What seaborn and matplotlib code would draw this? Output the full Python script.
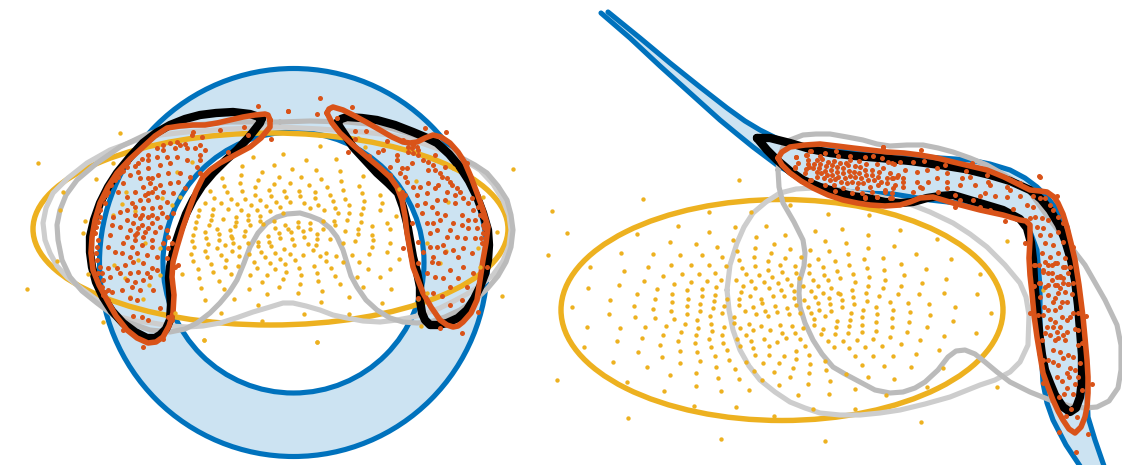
import numpy as np
import pandas as pd
import matplotlib
matplotlib.use('Agg')
import matplotlib.pyplot as plt
from matplotlib.patches import Circle, Ellipse, Wedge
import seaborn as sns

BLUE = '#0072BD'
PALE = '#CCE3F2'
YELLOW = '#EDB120'
ORANGE = '#D95319'
GRAY_D = '#BBBBBB'
GRAY_L = '#CDCDCD'

# left panel, ring and ellipse (centre x, centre y, radius / widths) in image pixels
ring = (293.5, 262.5, 194, 130.5)
ellipse_left = (270.5, 229, 475, 192)
ellipse_right = (782, 310, 442, 221)

# outlines, image pixels
gray_d_left = [(280,122),(230,122),(170,127),(145,135),(120,147),(97,163),(77,180),(66,195),(60,210),(57,225),(58,240),(62,260),(70,277),(82,291),(97,303),(113,315),(130,323),(150,330),(170,332),(185,329),(197,323),(210,313),(220,303),(230,291),(237,280),(244,263),(250,247),(258,233),(267,223),(277,217),(287,214),(300,213),(310,216),(320,220),(330,228),(337,237),(343,250),(347,263),(351,276),(357,287),(366,300),(377,310),(390,318),(403,322),(417,323),(430,322),(445,317),(460,310),(475,300),(487,289),(498,276),(506,262),(511,247),(513,230),(511,215),(507,200),(498,186),(487,173),(475,165),(460,157),(445,148),(430,140),(410,134),(390,128),(368,124),(347,122),(310,121),(280,122)]
gray_l_left = [(273,127),(230,129),(187,132),(160,135),(137,140),(110,150),(87,163),(68,178),(53,193),(46,208),(43,223),(45,240),(50,253),(57,266),(67,277),(82,289),(97,300),(108,309),(120,317),(136,321),(153,323),(170,326),(187,327),(203,326),(220,323),(236,318),(253,312),(270,307),(283,303),(293,303),(306,306),(320,310),(333,315),(347,318),(363,321),(380,322),(397,320),(413,317),(427,313),(440,308),(454,301),(467,294),(481,285),(493,275),(503,261),(509,246),(511,230),(509,215),(503,200),(493,184),(480,170),(464,160),(447,152),(430,146),(413,140),(390,135),(363,132),(320,129),(280,127),(273,127)]
black_a = [(262,118),(250,114),(233,112),(216,113),(200,115),(185,119),(170,125),(156,133),(143,143),(130,157),(117,173),(108,187),(100,203),(94,220),(90,237),(90,252),(92,267),(96,282),(103,297),(112,311),(123,323),(135,332),(147,338),(155,338),(160,335),(166,329),(170,320),(171,305),(170,290),(169,278),(170,267),(174,248),(180,230),(186,214),(193,200),(202,186),(213,173),(225,161),(237,150),(249,137),(260,123),(262,118)]
orange_a = [(270,120),(268,115),(265,114),(255,115),(243,117),(230,120),(217,123),(205,125),(193,125),(180,126),(167,128),(155,136),(143,147),(130,159),(117,173),(108,187),(100,203),(95,220),(92,237),(91,253),(93,270),(99,285),(107,300),(116,316),(127,330),(137,338),(148,343),(156,342),(163,337),(169,326),(173,313),(174,295),(172,277),(173,262),(177,247),(183,227),(190,207),(196,191),(203,177),(210,170),(220,163),(235,155),(250,147),(261,138),(270,127),(270,120)]
black_b = [(337,123),(341,119),(347,117),(362,118),(377,120),(395,125),(413,132),(425,137),(437,143),(449,154),(460,167),(469,181),(477,197),(483,213),(488,230),(489,245),(488,260),(485,274),(480,287),(474,299),(467,310),(458,318),(447,323),(438,325),(430,325),(425,320),(422,313),(420,300),(420,287),(417,272),(413,257),(410,240),(407,223),(403,207),(398,193),(388,183),(377,173),(365,160),(353,147),(345,135),(337,123)]
orange_b = [(327,113),(329,109),(333,107),(343,110),(353,115),(366,122),(380,130),(392,137),(403,142),(410,143),(417,142),(425,138),(433,135),(441,137),(450,143),(458,152),(465,163),(471,177),(477,193),(483,210),(488,227),(486,243),(483,260),(480,280),(477,300),(471,313),(463,322),(458,326),(453,327),(447,325),(440,320),(431,307),(423,293),(418,280),(413,267),(410,250),(407,233),(405,216),(402,200),(397,187),(390,177),(379,167),(367,157),(353,145),(340,133),(332,123),(327,113)]

band_upper = [(608,12),(640,38),(670,63),(700,87),(727,108),(745,121),(760,130),(778,139),(797,145),(815,149),(850,152),(900,155),(940,158),(970,160),(990,164),(1010,170),(1025,178),(1037,187),(1047,197),(1055,207),(1062,217),(1067,227),(1073,260),(1080,310),(1084,350),(1087,390),(1088,417),(1095,440),(1104,466)]
band_lower = [(601,13),(630,38),(660,66),(690,93),(720,120),(737,134),(753,147),(777,165),(800,178),(825,188),(860,193),(893,194),(930,200),(975,205),(1000,210),(1017,217),(1025,224),(1031,234),(1037,250),(1040,287),(1040,330),(1043,383),(1047,403),(1053,420),(1066,445),(1080,466)]
gray_d_right = [(778,170),(779,158),(783,147),(790,140),(803,135),(816,134),(830,134),(847,137),(863,140),(877,144),(890,146),(907,145),(923,145),(938,148),(953,152),(970,158),(987,165),(1010,178),(1030,192),(1050,220),(1068,243),(1085,265),(1105,300),(1117,325),(1121,345),(1121,370),(1118,388),(1109,401),(1097,407),(1085,408),(1070,406),(1050,400),(1030,392),(1010,382),(997,372),(985,362),(975,354),(965,350),(956,351),(948,357),(938,370),(925,382),(915,388),(903,392),(890,393),(875,390),(860,382),(845,374),(833,367),(822,354),(813,340),(805,323),(800,307),(799,293),(800,280),(804,266),(805,253),(803,240),(794,222),(783,203),(779,187),(778,170)]
gray_l_right = [(727,290),(730,265),(737,243),(744,227),(753,213),(766,202),(780,193),(796,189),(813,188),(833,189),(853,192),(880,197),(907,203),(930,212),(953,223),(970,234),(987,247),(1005,265),(1020,283),(1026,297),(1029,315),(1028,345),(1020,362),(1010,372),(995,380),(980,385),(965,391),(950,397),(925,404),(900,410),(880,413),(860,415),(840,415),(820,413),(805,408),(790,402),(775,392),(760,380),(749,366),(740,350),(733,330),(729,310),(727,290)]
black_c = [(757,138),(770,138),(790,143),(810,149),(830,153),(855,156),(880,158),(910,161),(940,165),(965,169),(990,175),(1010,181),(1030,190),(1041,199),(1050,210),(1059,225),(1065,240),(1071,260),(1075,280),(1078,305),(1080,330),(1082,355),(1082,380),(1080,397),(1076,408),(1070,412),(1063,407),(1055,395),(1050,383),(1045,370),(1042,355),(1040,340),(1038,320),(1036,300),(1034,280),(1033,260),(1031,243),(1027,228),(1020,219),(1003,210),(973,201),(953,195),(940,196),(927,198),(913,202),(900,203),(885,202),(867,198),(852,196),(837,192),(820,187),(803,180),(790,171),(777,160),(767,150),(757,138)]
orange_c = [(778,158),(782,152),(790,147),(805,145),(820,144),(837,146),(853,148),(870,150),(887,152),(904,153),(920,155),(937,158),(953,162),(970,166),(987,170),(1004,177),(1020,185),(1030,190),(1040,191),(1047,192),(1054,197),(1058,203),(1063,214),(1067,227),(1071,243),(1075,260),(1079,285),(1083,317),(1085,338),(1087,360),(1088,377),(1088,393),(1087,407),(1085,417),(1081,427),(1075,433),(1069,429),(1063,420),(1058,411),(1053,400),(1048,387),(1043,373),(1040,355),(1037,337),(1034,315),(1032,293),(1030,275),(1029,258),(1030,240),(1030,225),(1026,221),(1020,220),(1003,215),(980,210),(953,203),(943,200),(933,197),(920,198),(910,202),(900,205),(885,206),(870,205),(857,203),(843,200),(828,195),(813,188),(801,181),(790,173),(782,165),(778,158)]

yellow_a = (170, 130, [(450,48),(339,71),(249,80),(408,91),(497,88),(311,104),(216,108),(366,118),(439,119),(275,126),(509,124),(212,135),(327,140),(392,142),(580,137),(156,144),(264,150),(454,146),(514,152),(210,160),(311,161),(361,160),(417,164),(162,167),(254,171),(471,170),(566,167),(119,183),(216,183),(296,181),(342,183),(387,182),(436,186),(518,181),(171,187),(254,194),(302,199),(348,200),(480,196),(575,188),(133,203),(183,206),(226,206),(391,198),(436,204),(631,194),(269,211),(317,215),(361,217),(401,218),(490,214),(526,206),(104,220),(152,220),(201,222),(242,225),(287,228),(331,232),(445,225),(538,225),(583,212),(636,219),(87,239),(130,237),(174,236),(213,239),(260,240),(300,244),(419,235),(461,241),(494,234),(578,233),(629,241),(83,258),(125,255),(159,268),(198,261),(233,254),(271,258),(340,248),(505,250),(537,250),(573,253),(678,257),(79,275),(122,270),(198,277),(235,269),(270,272),(493,273),(530,270),(574,277),(650,278),(76,293),(116,286),(142,298),(180,300),(196,289),(240,285),(311,274),(278,282),(346,284),(383,275),(420,280),(459,274),(494,286),(565,296),(607,288),(105,307),(146,312),(182,318),(225,302),(316,294),(354,297),(385,290),(420,296),(458,298),(525,304),(660,297),(68,314),(107,324),(147,330),(187,325),(221,318),(293,318),(326,310),(362,305),(400,304),(440,312),(565,313),(607,316),(66,333),(113,341),(165,344),(188,338),(234,340),(265,335),(296,337),(330,325),(366,326),(403,321),(440,328),(480,326),(555,332),(610,330),(660,340),(73,351),(105,363),(142,355),(207,350),(263,349),(302,348),(341,356),(371,345),(414,343),(437,345),(520,340),(606,350),(63,372),(112,382),(153,374),(186,363),(272,365),(315,369),(359,371),(400,375),(428,361),(469,368),(450,377),(497,377),(546,375),(596,372),(652,366),(70,393),(122,401),(167,391),(208,378),(236,373),(285,381),(329,386),(375,391),(468,394),(518,396),(568,395),(687,386),(84,416),(130,427),(166,411),(205,407),(251,395),(300,398),(346,403),(431,409),(483,413),(595,417),(660,416),(36,431),(184,432),(260,414),(316,416),(387,413),(348,425),(440,430),(88,445),(147,452),(240,435),(291,436),(392,436),(338,447),(496,437),(560,441),(630,442),(275,456),(390,461),(445,453),(510,463),(93,473),(162,478),(236,478),(327,471),(579,471),(664,476),(291,493),(385,489),(457,482),(538,501),(104,509),(193,506),(454,515),(637,518),(263,526),(152,548),(402,553),(538,552),(275,572),(103,631),(440,637)])
yellow_b = (20, 60, [(55,308),(22,688),(300,218),(228,358),(195,482),(190,518),(120,450),(128,397),(110,603),(203,642),(250,785),(553,840),(280,310),(318,395),(345,452),(305,432),(280,465),(375,548),(355,600),(282,614),(315,655),(388,675),(370,716),(330,712),(425,415),(455,435),(480,410),(515,305),(472,335),(420,565),(420,645),(465,760)])
yellow_c = (280, 60, [(699,327),(666,708),(650,516),(610,412),(520,323),(110,847),(422,797),(415,716),(440,700),(600,620),(595,565),(352,300),(408,362),(358,388),(503,427),(480,610),(497,573),(440,550),(170,175),(235,235),(255,260)])
yellow_d = (540, 180, [(35,94),(82,160),(25,226),(52,600),(263,713),(542,776),(855,783),(308,56),(596,0),(506,96),(632,96),(750,75),(864,102),(414,137),(292,161),(507,157),(584,141),(678,139),(735,166),(825,152),(390,187),(468,191),(580,180),(648,171),(702,191),(854,184),(242,218),(338,222),(421,225),(486,226),(532,201),(592,212),(644,203),(692,218),(750,208),(810,210),(868,214),(149,261),(325,261),(393,256),(454,255),(507,254),(545,231),(597,240),(642,231),(683,244),(735,233),(782,232),(833,237),(884,243),(253,273),(369,289),(425,283),(477,281),(524,279),(557,258),(606,263),(646,259),(684,269),(720,255),(764,257),(808,255),(850,262),(891,272),(312,303),(453,306),(500,302),(544,300),(588,300),(617,283),(657,285),(697,292),(727,277),(769,278),(807,280),(852,284),(143,324),(238,316),(401,313),(350,327),(442,331),(486,326),(528,322),(608,319),(633,302),(671,306),(713,310),(741,296),(778,295),(818,299),(864,299),(291,343),(397,341),(443,356),(485,348),(526,344),(603,336),(644,323),(687,324),(723,329),(752,316),(790,318),(833,317),(873,325),(345,358),(396,367),(441,379),(481,371),(521,364),(560,358),(596,356),(630,347),(664,357),(698,347),(731,347),(761,333),(812,333),(850,339),(895,340),(211,361),(281,378),(340,386),(393,392),(440,403),(481,393),(518,385),(553,377),(598,375),(638,382),(667,370),(706,379),(740,384),(761,355),(792,360),(826,352),(868,354),(97,382),(206,403),(284,411),(346,415),(402,416),(471,419),(509,409),(545,400),(581,410),(614,394),(648,402),(676,392),(712,397),(746,403),(768,374),(804,380),(835,369),(870,373),(141,440),(240,443),(314,441),(377,439),(434,433),(475,443),(513,431),(551,442),(583,430),(601,444),(626,431),(663,438),(685,408),(719,436),(755,438),(780,400),(812,399),(837,390),(873,392),(423,457),(369,465),(306,474),(515,452),(467,465),(545,466),(618,465),(639,451),(690,450),(725,460),(764,459),(790,444),(821,417),(855,408),(892,424),(415,483),(232,484),(506,477),(464,490),(550,488),(590,478),(633,483),(671,477),(710,487),(738,473),(780,476),(821,435),(849,446),(887,442),(133,502),(359,496),(512,501),(420,513),(600,498),(561,509),(640,505),(688,497),(768,513),(795,498),(843,463),(884,462),(293,515),(367,530),(470,517),(525,527),(567,539),(646,526),(688,525),(731,527),(806,524),(863,482),(881,502),(219,545),(421,548),(481,544),(618,546),(670,550),(717,549),(769,538),(810,551),(855,543),(322,561),(528,560),(584,568),(702,575),(760,563),(859,571),(390,584),(467,578),(642,572),(808,580),(533,593),(598,598),(665,599),(750,591),(871,603),(262,605),(467,617),(717,616),(804,611),(373,632),(544,634),(626,631),(774,644),(867,641),(463,677),(588,680),(819,686),(702,707)])
yellow_e = (800, 200, [(127,88),(205,105),(299,90),(208,45),(139,129),(410,117),(620,123),(204,145),(281,138),(143,162),(191,178),(250,173),(349,162),(453,177),(146,195),(200,205),(251,210),(304,192),(378,208),(539,221),(160,221),(121,234),(207,232),(256,239),(312,226),(439,238),(165,246),(205,257),(249,265),(303,257),(365,248),(157,270),(120,281),(197,280),(237,289),(294,283),(357,281),(431,279),(531,282),(159,292),(125,301),(200,303),(269,307),(325,308),(388,312),(465,320),(162,313),(127,322),(190,329),(229,320),(279,331),(331,336),(391,345),(574,340),(153,338),(232,343),(276,355),(460,362),(151,359),(187,351),(229,367),(327,365),(381,380),(146,379),(187,375),(275,380),(321,396),(433,407),(528,399),(144,400),(185,397),(229,392),(270,410),(360,420),(128,422),(172,420),(219,417),(303,433),(147,444),(195,442),(247,439),(418,450),(347,462),(164,469),(218,467),(279,467),(186,496),(251,498),(333,500),(430,505),(139,521),(203,532),(282,536),(165,566),(380,561),(590,562),(257,586),(166,627),(362,667)])
yellow_f = (960, 260, [(248,90)])

orange_p = (20, 60, [(715,137),(803,153),(672,200),(685,225),(623,277),(752,236),(600,210),(520,215),(515,225),(545,230),(540,255),(495,252),(470,245),(450,250),(540,285),(540,300),(500,265),(465,265),(430,270),(410,290),(440,290),(470,290),(500,300),(385,300),(355,310),(320,320),(295,350),(265,395),(255,430),(240,470),(235,540),(230,560),(240,620),(250,660),(265,690),(530,320),(540,340),(510,350),(480,340),(450,310),(420,315),(385,325),(355,335),(330,345),(310,370),(295,395),(360,355),(385,355),(415,345),(445,340),(475,365),(495,385),(450,370),(420,375),(390,370),(370,380),(345,395),(320,410),(405,385),(430,395),(460,400),(385,400),(360,420),(335,430),(410,410),(385,420),(440,425),(420,440),(395,445),(370,445),(345,465),(320,450),(300,455),(280,470),(360,475),(385,470),(410,475),(440,470),(460,460),(425,460),(340,490),(365,495),(395,490),(420,500),(320,480),(300,500),(275,495),(330,510),(350,520),(375,515),(405,515),(440,510),(445,530),(455,550),(430,550),(320,530),(345,540),(370,530),(395,540),(310,550),(335,560),(365,555),(395,560),(285,575),(305,580),(330,590),(350,580),(380,585),(410,590),(445,565),(440,595),(270,525),(265,560),(290,625),(315,615),(340,605),(370,610),(395,625),(300,640),(330,640),(355,635),(380,640),(410,630),(265,625),(245,640),(270,650),(320,660),(345,665),(370,660),(390,650),(275,695),(305,690),(335,680),(360,690),(350,720),(330,715),(400,690),(420,745),(385,780),(340,767),(365,770),(250,705),(265,720),(310,810),(370,860),(430,838),(465,620),(475,615),(455,780),(445,770),(225,520),(228,500),(235,485),(240,450),(248,415),(258,405),(272,375),(285,360),(300,340),(310,332),(325,305),(228,580),(232,600),(235,640),(245,680),(255,695),(555,270),(525,265),(480,255),(430,255),(410,265),(385,285),(365,298),(345,318),(395,355),(375,405),(395,395),(345,440),(365,465),(395,465),(355,505),(385,505),(345,525)])
orange_q = (280, 60, [(120,115),(23,153),(110,162),(215,141),(170,175),(225,212),(258,212),(225,237),(205,275),(268,288),(295,277),(308,270),(322,242),(350,285),(350,300),(370,240),(385,260),(400,255),(410,260),(385,275),(400,280),(435,205),(498,216),(560,308),(465,285),(430,300),(445,305),(460,315),(480,340),(500,355),(415,285),(395,310),(380,325),(365,325),(375,350),(380,365),(330,320),(330,345),(360,340),(445,330),(465,330),(495,320),(475,375),(445,370),(420,380),(400,380),(375,405),(365,395),(370,415),(410,405),(440,400),(465,385),(515,375),(530,385),(500,395),(525,405),(550,415),(565,430),(580,450),(600,465),(615,490),(610,520),(605,550),(585,480),(470,420),(495,420),(525,430),(545,465),(565,480),(435,430),(410,435),(425,460),(455,440),(470,460),(495,465),(520,490),(545,495),(565,505),(590,505),(440,490),(460,490),(480,480),(510,510),(530,530),(555,535),(585,535),(395,490),(415,545),(450,520),(470,510),(500,530),(450,560),(470,560),(490,555),(520,570),(550,565),(575,580),(460,590),(495,575),(535,590),(430,575),(415,610),(455,605),(475,610),(510,630),(550,620),(580,640),(440,640),(465,650),(490,655),(535,655),(620,622),(510,680),(560,680),(415,715),(458,700),(485,708),(545,720),(510,735),(595,755),(545,818),(480,805),(370,565),(605,450),(610,470),(608,495),(612,505),(604,535),(595,440),(575,415),(540,395),(485,350),(510,365),(415,270),(395,265)])
orange_r = (775, 140, [(63,50),(68,68),(60,85),(90,100),(107,120),(95,45),(107,32),(135,47),(150,38),(183,33),(188,48),(225,47),(270,52),(293,48),(320,55),(325,20),(100,60),(98,72),(103,82),(125,60),(118,72),(115,85),(125,95),(125,110),(142,58),(135,72),(132,85),(138,100),(148,115),(150,135),(160,65),(152,78),(150,92),(155,105),(165,120),(177,135),(178,62),(170,75),(168,90),(172,105),(180,118),(203,145),(195,68),(187,80),(185,95),(190,110),(198,125),(230,158),(213,70),(205,85),(205,100),(210,115),(215,130),(245,145),(225,60),(220,75),(222,92),(225,108),(232,125),(262,158),(240,78),(238,95),(240,110),(248,128),(270,172),(252,62),(255,82),(253,100),(258,115),(265,130),(305,170),(272,72),(270,90),(272,105),(280,120),(285,140),(290,155),(305,72),(292,90),(290,105),(298,120),(310,135),(330,155),(325,85),(312,95),(310,110),(318,125),(350,175),(340,65),(358,72),(345,100),(350,115),(370,105),(335,115),(335,130),(360,135),(383,115)])
orange_s = (720, 110, [(490,110),(603,120),(228,140),(270,122),(258,135),(515,160),(540,155),(578,155),(613,152),(675,165),(738,183),(755,160),(800,195),(900,218),(958,198),(530,200),(555,180),(590,185),(620,180),(650,175),(680,190),(725,205),(750,200),(805,215),(520,205),(550,215),(590,215),(625,215),(650,205),(680,215),(720,225),(765,225),(810,225),(550,230),(605,235),(580,245),(655,245),(680,235),(705,255),(720,270),(760,270),(780,258),(795,250),(825,258),(860,260),(900,258),(860,230),(870,240),(920,285),(940,290),(880,298),(855,333),(705,292),(780,290),(810,300),(940,258),(960,265),(975,265),(990,285),(1000,300),(1010,258),(1015,320),(1030,340),(945,320),(965,325),(985,330),(930,325),(950,350),(970,355),(990,375),(1015,365),(960,375),(975,400),(1000,405),(1030,395),(1060,410),(965,430),(990,440),(1015,430),(1035,445),(915,400),(945,465),(985,465),(1005,458),(1030,470),(970,485),(995,490),(1020,498),(1045,490),(1060,520),(1030,520),(1010,525),(985,525),(960,520),(1045,522),(510,265),(470,260),(435,263),(345,243),(270,210),(225,172),(258,178),(495,240),(520,235),(515,250),(600,230),(960,200)])
orange_t = (960, 260, [(238,15),(222,15),(250,30),(255,5),(290,10),(275,15),(315,22),(330,22),(265,40),(300,50),(310,55),(275,60),(290,50),(238,68),(222,78),(255,80),(285,75),(325,72),(300,85),(240,112),(265,105),(295,100),(315,95),(335,103),(285,115),(280,125),(305,125),(252,140),(285,150),(265,150),(300,140),(320,125),(340,158),(355,160),(378,167),(210,158),(235,165),(250,165),(270,178),(285,185),(305,170),(320,180),(330,170),(262,202),(280,200),(300,200),(320,215),(345,208),(355,210),(255,220),(270,225),(290,215),(310,225),(245,240),(285,240),(295,235),(315,240),(355,255),(280,270),(300,275),(325,285),(340,290),(365,250),(250,300),(265,300),(280,305),(295,315),(310,295),(330,325),(360,310),(345,330),(320,340),(290,350),(305,362),(328,352),(355,352),(250,368),(345,373),(395,373),(322,383),(313,402),(298,412),(365,390),(338,402),(332,448),(318,468),(350,470),(298,517),(383,521),(348,576)])


def crop_frame(crops):
    # 3x crop pixels back to image pixels
    rows = []
    for x0, y0, pts in crops:
        p = np.array(pts, dtype=float)
        rows.append(pd.DataFrame({'x': x0 + p[:, 0] / 3, 'y': y0 + p[:, 1] / 3}))
    return pd.concat(rows, ignore_index=True)


def draw_curve(ax, pts, color, lw, z):
    p = np.array(pts, dtype=float)
    sns.lineplot(x=p[:, 0], y=p[:, 1], sort=False, estimator=None, color=color,
                 linewidth=lw, zorder=z, legend=False, ax=ax)


sns.set_theme(style='white')
plt.rcParams['lines.solid_joinstyle'] = 'round'
plt.rcParams['lines.solid_capstyle'] = 'round'

fig, ax = plt.subplots(figsize=(11.22, 4.65), dpi=100)
fig.subplots_adjust(left=0, right=1, bottom=0, top=1)

# blue ring on the left, blue band on the right
cx, cy, r_out, r_in = ring
ax.add_patch(Wedge((cx, cy), r_out, 0, 360, width=r_out - r_in, facecolor=PALE, edgecolor='none', zorder=1))
ax.add_patch(Circle((cx, cy), r_out, fill=False, edgecolor=BLUE, linewidth=3.7, zorder=2))
ax.add_patch(Circle((cx, cy), r_in, fill=False, edgecolor=BLUE, linewidth=3.7, zorder=2))
band = np.array(band_upper + band_lower[::-1], dtype=float)
ax.fill(band[:, 0], band[:, 1], color=PALE, linewidth=0, zorder=1)
draw_curve(ax, band_upper, BLUE, 3.7, 2)
draw_curve(ax, band_lower, BLUE, 3.7, 2)

# yellow ellipses
for ex, ey, ew, eh in [ellipse_left, ellipse_right]:
    ax.add_patch(Ellipse((ex, ey), ew, eh, fill=False, edgecolor=YELLOW, linewidth=3.9, zorder=3))

# gray outlines
draw_curve(ax, gray_l_left, GRAY_L, 3.7, 4)
draw_curve(ax, gray_d_left, GRAY_D, 3.7, 4)
draw_curve(ax, gray_l_right, GRAY_L, 3.7, 4)
draw_curve(ax, gray_d_right, GRAY_D, 3.7, 4)

# black and orange outlines
for pts in [black_a, black_b, black_c]:
    draw_curve(ax, pts, 'black', 6.0, 5)
for pts in [orange_a, orange_b, orange_c]:
    draw_curve(ax, pts, ORANGE, 4.0, 6)

# dots
yellow_dots = crop_frame([yellow_a, yellow_b, yellow_c, yellow_d, yellow_e, yellow_f])
orange_dots = crop_frame([orange_p, orange_q, orange_r, orange_s, orange_t])
sns.scatterplot(data=yellow_dots, x='x', y='y', color=YELLOW, s=10, linewidth=0, zorder=7, ax=ax)
sns.scatterplot(data=orange_dots, x='x', y='y', color=ORANGE, s=13, linewidth=0, zorder=8, ax=ax)

ax.set_xlim(0, 1122)
ax.set_ylim(465, 0)
ax.axis('off')

plt.savefig('out.png', dpi=100)
plt.close()
